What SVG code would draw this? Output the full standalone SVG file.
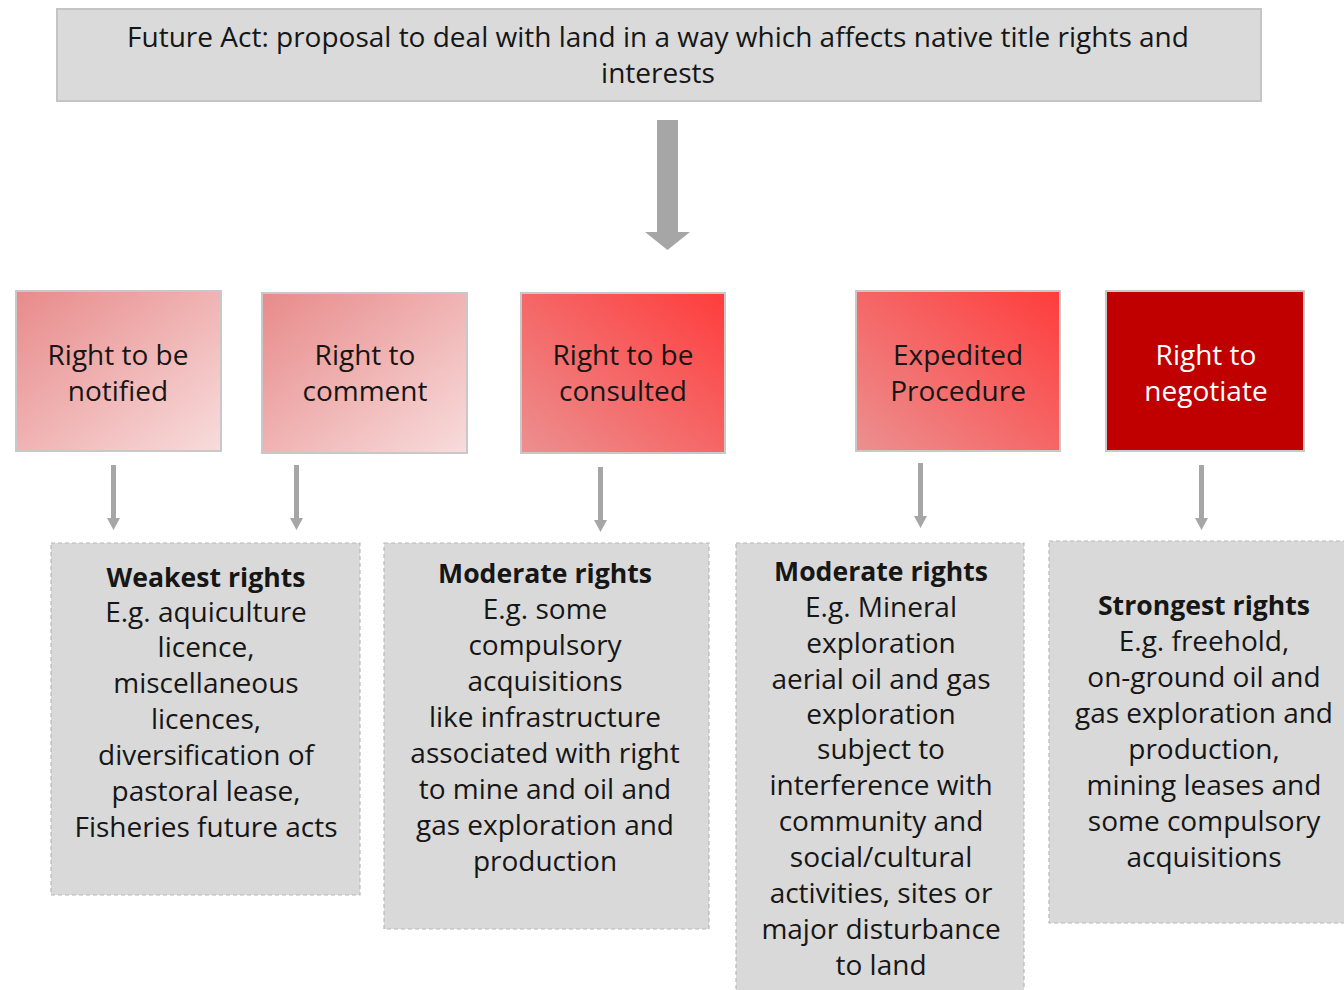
<svg xmlns="http://www.w3.org/2000/svg" width="1344" height="990" viewBox="0 0 1344 990">
<style>
text{font-family:"Open Sans","Liberation Sans",sans-serif;font-size:28px;fill:#161616;text-anchor:middle}
.b{font-weight:bold;font-size:26.6px}
.w{fill:#ffffff}
.top{fill:#dadada;stroke:#c4c4c4;stroke-width:2}
.hdr{stroke:#c8c8c8;stroke-width:2}
.ex{fill:#d9d9d9;stroke:#b8b8b8;stroke-width:1.2;stroke-dasharray:4 3}
.arr{fill:#a6a6a6}
</style>
<defs>
<linearGradient id="gPink" x1="0" y1="0" x2="1" y2="1">
<stop offset="0" stop-color="#e88a8a"/><stop offset="1" stop-color="#f8dcdc"/>
</linearGradient>
<linearGradient id="gRed" x1="0" y1="1" x2="1" y2="0">
<stop offset="0" stop-color="#ec9090"/><stop offset="1" stop-color="#ff3c3c"/>
</linearGradient>
</defs>
<g id="n-top">
<rect class="top" x="57" y="9" width="1204" height="92"/>
<text x="658" y="47">Future Act: proposal to deal with land in a way which affects native title rights and</text>
<text x="658" y="83">interests</text>
</g>
<g id="connectors">
<path class="arr" d="M657 120H678V232H690L667.5 250L645 232H657Z"/>
<path class="arr" d="M111 465H116V518H120L113.5 530L107 518H111Z"/>
<path class="arr" d="M294 465H299V518H303L296.5 530L290 518H294Z"/>
<path class="arr" d="M598 467H603V520H607L600.5 532L594 520H598Z"/>
<path class="arr" d="M918 463H923V516H927L920.5 528L914 516H918Z"/>
<path class="arr" d="M1199 465H1204V518H1208L1201.5 530L1195 518H1199Z"/>
</g>
<g id="n-notified">
<rect class="hdr" x="16" y="291" width="205" height="160" fill="url(#gPink)"/>
<text x="118" y="365">Right to be</text>
<text x="118" y="401">notified</text>
</g>
<g id="n-comment">
<rect class="hdr" x="262" y="293" width="205" height="160" fill="url(#gPink)"/>
<text x="365" y="365">Right to</text>
<text x="365" y="401">comment</text>
</g>
<g id="n-consulted">
<rect class="hdr" x="521" y="293" width="204" height="160" fill="url(#gRed)"/>
<text x="623" y="365">Right to be</text>
<text x="623" y="401">consulted</text>
</g>
<g id="n-expedited">
<rect class="hdr" x="856" y="291" width="204" height="160" fill="url(#gRed)"/>
<text x="958" y="365">Expedited</text>
<text x="958" y="401">Procedure</text>
</g>
<g id="n-negotiate">
<rect class="hdr" x="1106" y="291" width="198" height="160" fill="#c00000"/>
<text class="w" x="1206" y="365">Right to</text>
<text class="w" x="1206" y="401">negotiate</text>
</g>
<g id="n-weakest">
<rect class="ex" x="51" y="543" width="309" height="352"/>
<text class="b" x="206" y="587">Weakest rights</text>
<text x="206" y="622">E.g. aquiculture</text>
<text x="206" y="657">licence,</text>
<text x="206" y="693">miscellaneous</text>
<text x="206" y="729">licences,</text>
<text x="206" y="765">diversification of</text>
<text x="206" y="801">pastoral lease,</text>
<text x="206" y="837">Fisheries future acts</text>
</g>
<g id="n-moderate1">
<rect class="ex" x="384" y="543" width="325" height="386"/>
<text class="b" x="545" y="583">Moderate rights</text>
<text x="545" y="619">E.g. some</text>
<text x="545" y="655">compulsory</text>
<text x="545" y="691">acquisitions</text>
<text x="545" y="727">like infrastructure</text>
<text x="545" y="763">associated with right</text>
<text x="545" y="799">to mine and oil and</text>
<text x="545" y="835">gas exploration and</text>
<text x="545" y="871">production</text>
</g>
<g id="n-moderate2">
<rect class="ex" x="736" y="543" width="288" height="460"/>
<text class="b" x="881" y="581">Moderate rights</text>
<text x="881" y="617">E.g. Mineral</text>
<text x="881" y="653">exploration</text>
<text x="881" y="689">aerial oil and gas</text>
<text x="881" y="724">exploration</text>
<text x="881" y="759">subject to</text>
<text x="881" y="795">interference with</text>
<text x="881" y="831">community and</text>
<text x="881" y="867">social/cultural</text>
<text x="881" y="903">activities, sites or</text>
<text x="881" y="939">major disturbance</text>
<text x="881" y="975">to land</text>
</g>
<g id="n-strongest">
<rect class="ex" x="1049" y="541" width="300" height="382"/>
<text class="b" x="1204" y="615">Strongest rights</text>
<text x="1204" y="651">E.g. freehold,</text>
<text x="1204" y="687">on-ground oil and</text>
<text x="1204" y="723">gas exploration and</text>
<text x="1204" y="759">production,</text>
<text x="1204" y="795">mining leases and</text>
<text x="1204" y="831">some compulsory</text>
<text x="1204" y="867">acquisitions</text>
</g>
</svg>
